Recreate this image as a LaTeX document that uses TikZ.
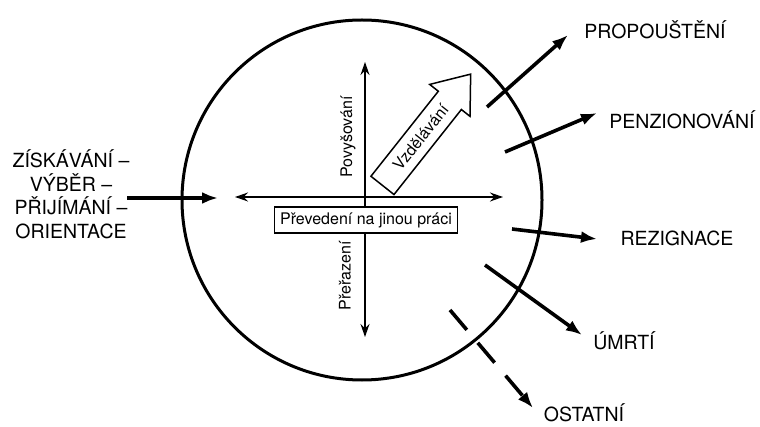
\documentclass[tikz,border=0pt]{standalone}
\usepackage{fontspec}
\setmainfont{TeX Gyre Heros}
\usetikzlibrary{arrows.meta,positioning,shapes.arrows}

\begin{document}
\begin{tikzpicture}[x=1pt,y=-1pt,
  flow/.style={line width=3.6pt,-{Latex[length=16pt,width=12pt]}},
  axis/.style={line width=1.3pt,{Stealth[length=13pt,width=9pt]}-{Stealth[length=13pt,width=9pt]}},
  big/.style={font=\fontsize{19.5}{23.5}\selectfont},
  small/.style={font=\fontsize{16}{19}\selectfont}]
\useasboundingbox (0,0) rectangle (760,427);
\node[draw,circle,line width=3pt,minimum size=360pt] (ring) at (362,200) {};

% inflow
\node[big,align=center] (hire) at (71,194) {ZÍSKÁVÁNÍ –\\VÝBĚR –\\PŘIJÍMÁNÍ –\\ORIENTACE};
\coordinate (hireS) at (127,198);
\coordinate (hireE) at (218,198);
\draw[flow] (hireS) -- (hireE);

% movement inside
\coordinate (xL) at (235,197);
\coordinate (xR) at (503,197);
\coordinate (yT) at (365,62);
\coordinate (yB) at (365,337);
\draw[axis] (xL) -- (xR);
\draw[axis] (yB) -- (yT);
\node[draw,fill=white,small,line width=1.1pt,inner xsep=6pt,minimum height=26pt] (move) at (366,220) {Převedení na jinou práci};
\node[small,rotate=90] (promo) at (348,137) {Povyšování};
\node[small,rotate=90] (demo) at (345,276) {Přeřazení};
\node[draw,single arrow,small,line width=1.5pt,rotate=51.6,anchor=tail,minimum height=142pt,
  single arrow head extend=11pt,single arrow tip angle=75,inner xsep=5pt,inner ysep=8pt] (edu) at (382,186) {Vzdělávání};

% outflows
\node[big] (fire) at (655,30) {PROPOUŠTĚNÍ};
\node[big] (pens) at (682,120) {PENZIONOVÁNÍ};
\node[big] (resi) at (677,238) {REZIGNACE};
\node[big] (death) at (624,341) {ÚMRTÍ};
\node[big] (other) at (584,413) {OSTATNÍ};
\coordinate (fireS) at (487,107);
\coordinate (fireE) at (568,35);
\coordinate (pensS) at (505,152);
\coordinate (pensE) at (597,113);
\coordinate (resiS) at (512,229);
\coordinate (resiE) at (597,239);
\coordinate (deathS) at (485,265);
\coordinate (deathE) at (582,335);
\coordinate (otherS) at (450,310);
\coordinate (otherE) at (533,408);
\draw[flow] (fireS) -- (fireE);
\draw[flow] (pensS) -- (pensE);
\draw[flow] (resiS) -- (resiE);
\draw[flow] (deathS) -- (deathE);
\draw[flow,dash pattern=on 26pt off 17pt] (otherS) -- (otherE);
\end{tikzpicture}
\end{document}
